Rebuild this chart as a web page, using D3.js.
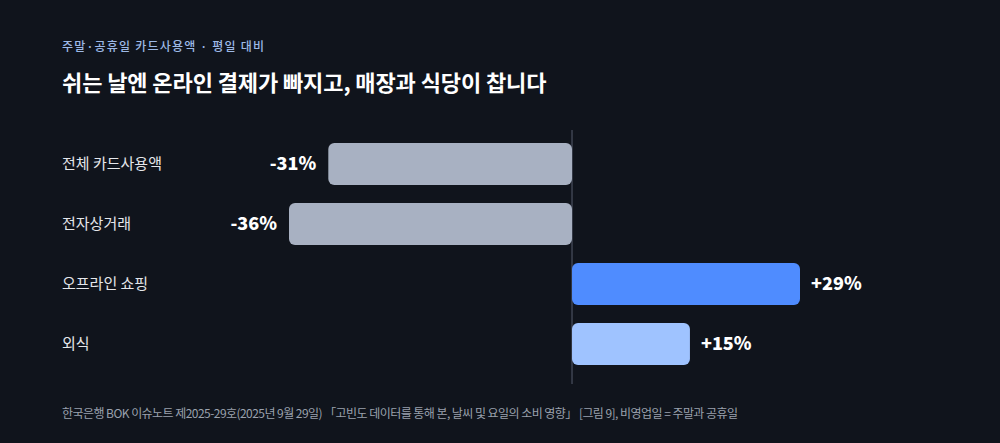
<!DOCTYPE html>
<html><head><meta charset="utf-8">
<script src="https://cdn.jsdelivr.net/npm/d3@7"></script>
<style>
html,body{margin:0;padding:0;background:#10141c;}
svg{display:block;font-family:"Noto Sans CJK KR","Noto Sans",sans-serif;}
</style></head><body>
<svg id="c" width="1000" height="443"></svg>
<script>
const categories = ["전체 카드사용액", "전자상거래", "오프라인 쇼핑", "외식"];
const values = [-31, -36, 29, 15];
const barColors = ["#a8b1c2", "#a8b1c2", "#4f8cff", "#9fc3ff"];
const subtitle = "주말·공휴일 카드사용액 · 평일 대비";
const title = "쉬는 날엔 온라인 결제가 빠지고, 매장과 식당이 찹니다";
const source = "한국은행 BOK 이슈노트 제2025-29호(2025년 9월 29일) 「고빈도 데이터를 통해 본, 날씨 및 요일의 소비 영향」 [그림 9], 비영업일 = 주말과 공휴일";

const svg = d3.select("#c");
const W = 1000, H = 443;
svg.append("rect").attr("width", W).attr("height", H).attr("fill", "#10141c");

const x = d3.scaleLinear().domain([-36, 29]).range([289, 800]);
const y = d3.scaleBand().domain(categories).range([134, 374]).paddingInner(0.3).paddingOuter(0.15);

svg.append("text").attr("x", 62).attr("y", 51).attr("fill", "#9db9e6")
  .attr("font-size", 12).attr("font-weight", 500).attr("letter-spacing", 1.2).text(subtitle);
svg.append("text").attr("x", 62).attr("y", 91).attr("fill", "#ffffff")
  .attr("font-size", 22).attr("font-weight", 700).attr("letter-spacing", -0.1).text(title);

svg.append("line").attr("x1", x(0)).attr("x2", x(0)).attr("y1", 130).attr("y2", 384)
  .attr("stroke", "#4a5060").attr("stroke-width", 1.2);

const g = svg.append("g");
categories.forEach((c, i) => {
  const v = values[i];
  const x0 = Math.min(x(0), x(v)), w = Math.abs(x(v) - x(0));
  g.append("rect").attr("x", x0).attr("y", y(c)).attr("width", w).attr("height", y.bandwidth())
    .attr("rx", 6).attr("fill", barColors[i]);
  g.append("text").attr("x", 62).attr("y", y(c) + y.bandwidth() / 2).attr("dy", "0.35em")
    .attr("fill", "#e5e7eb").attr("font-size", 15).text(c);
  const lbl = (v > 0 ? "+" : "") + v + "%";
  g.append("text").attr("x", v < 0 ? x(v) - 12 : x(v) + 11)
    .attr("y", y(c) + y.bandwidth() / 2).attr("dy", "0.35em")
    .attr("text-anchor", v < 0 ? "end" : "start")
    .attr("fill", "#ffffff").attr("font-size", 18).attr("font-weight", 800).text(lbl);
});

svg.append("text").attr("x", 62).attr("y", 418).attr("fill", "#9aa1ad")
  .attr("font-size", 12).attr("letter-spacing", -0.55).text(source);
</script>
</body></html>
